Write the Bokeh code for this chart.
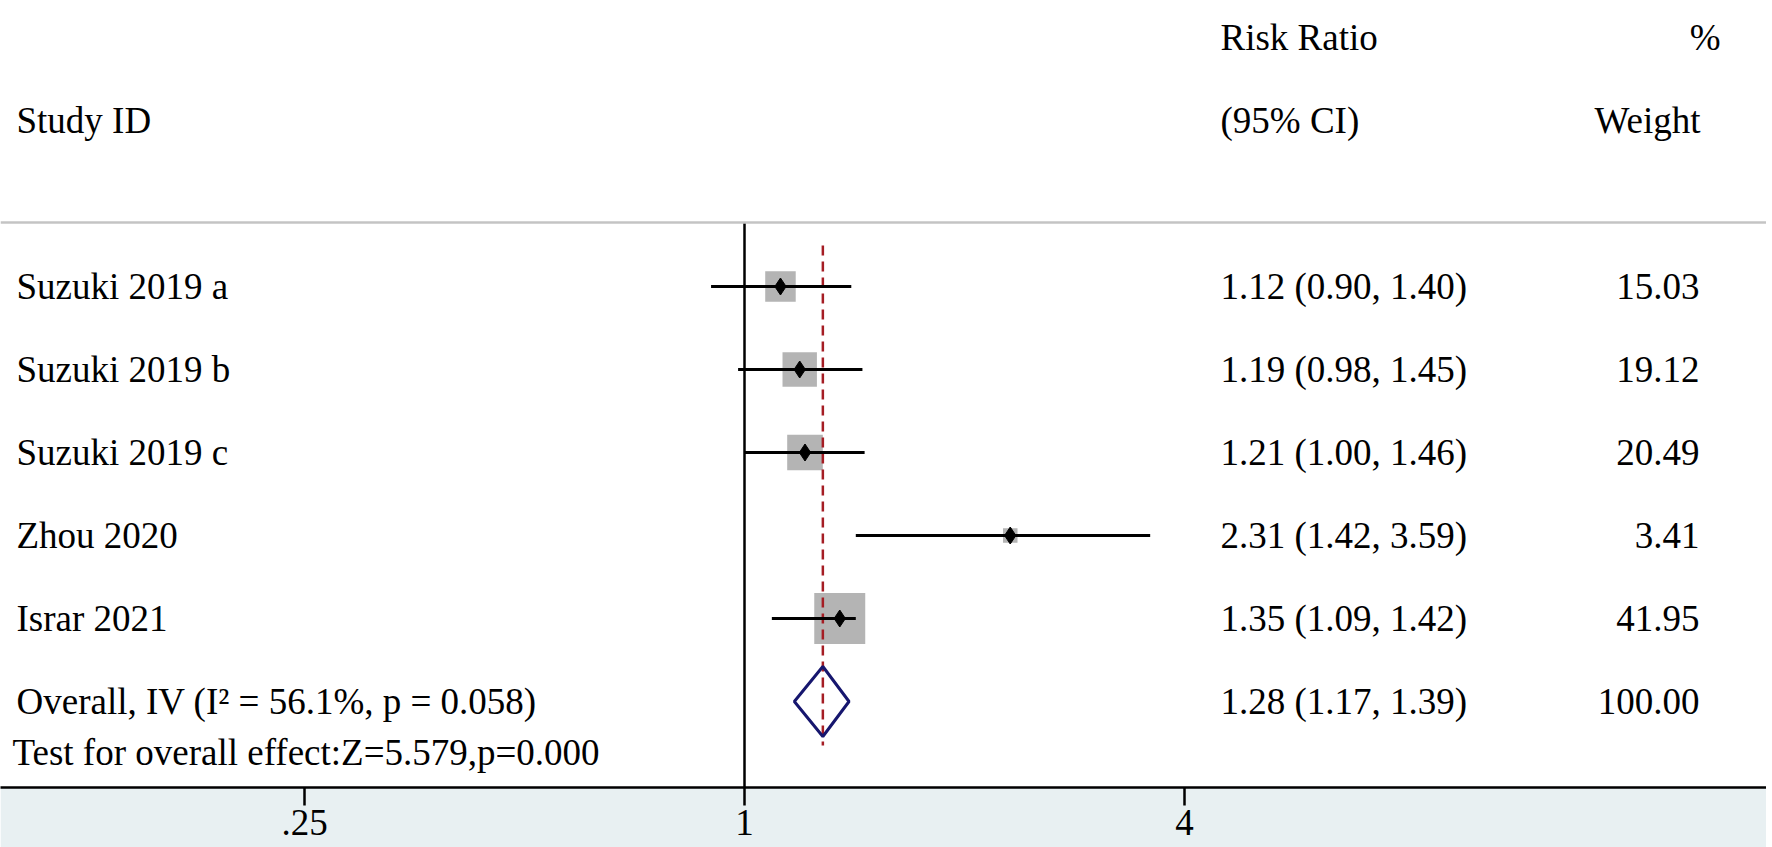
import math
import json
from bokeh.plotting import figure
from bokeh.models import Range1d, FixedTicker, CustomJSTickFormatter, ColumnDataSource, Span
from bokeh.core.properties import value
from bokeh.embed import file_html
from bokeh.resources import INLINE

# ---------------- data ----------------
studies = ["Suzuki 2019 a", "Suzuki 2019 b", "Suzuki 2019 c", "Zhou 2020", "Israr 2021"]
rr = [1.12, 1.19, 1.21, 2.31, 1.35]
ci_low = [0.90, 0.98, 1.00, 1.42, 1.09]
ci_high = [1.40, 1.45, 1.46, 3.59, 1.42]
weights = [15.03, 19.12, 20.49, 3.41, 41.95]

overall_label = "Overall, IV (I\u00b2 = 56.1%, p = 0.058)"
overall_rr = 1.28
overall_low = 1.17
overall_high = 1.39
overall_weight = 100.00
test_label = "Test for overall effect:Z=5.579,p=0.000"

header_study = "Study ID"
header_rr = ["Risk Ratio", "(95% CI)"]
header_w = ["%", "Weight"]

tick_values = [0.25, 1, 4]
tick_labels = [".25", "1", "4"]

# ---------------- layout helpers (screen pixels -> data) ----------------
X_ONE = 744.0      # x of RR = 1
X_UNIT = 220.0     # px per doubling
Y_ROW0 = 286.0     # y of first row
Y_STEP = 83.0      # px per row
W, H = 1766, 847
FRAME_L, FRAME_R = 0.0, float(W)
FRAME_T, FRAME_B = 0.0, 787.0


def xv(px):
    return 2 ** ((px - X_ONE) / X_UNIT)


def yr(py):
    return (py - Y_ROW0) / Y_STEP


FONT = value("Liberation Serif")
FSIZE = "37px"

p = figure(
    width=W, height=H,
    x_axis_type="log",
    x_range=Range1d(xv(FRAME_L), xv(FRAME_R)),
    y_range=Range1d(yr(FRAME_B), yr(FRAME_T)),
    toolbar_location=None, output_backend="svg",
    min_border_left=0, min_border_right=0, min_border_top=0,
    min_border_bottom=int(H - FRAME_B),
    y_axis_location=None,
    background_fill_color="white", border_fill_color="#e8f0f2",
    outline_line_color=None,
)
p.xgrid.visible = False
p.ygrid.visible = False

rows = list(range(len(studies)))
overall_row = len(studies)

src = ColumnDataSource(dict(
    rr=rr, lo=ci_low, hi=ci_high, y=rows,
    size=[7.87 * math.sqrt(w) for w in weights],
    label=studies,
    ci=["%.2f (%.2f, %.2f)" % (a, b, c) for a, b, c in zip(rr, ci_low, ci_high)],
    w=["%.2f" % w for w in weights],
))

# header separator
p.add_layout(Span(location=yr(222), dimension="width", line_color="#c4c4c4", line_width=2.5))

# null line at 1
p.segment(x0=[1], x1=[1], y0=[yr(222)], y1=[yr(FRAME_B)], line_color="black", line_width=2.5)

# weight boxes
p.scatter(x="rr", y="y", size="size", marker="square", source=src,
          fill_color="#b4b4b4", line_color=None)

# overall effect dashed line
p.segment(x0=[overall_rr], x1=[overall_rr], y0=[yr(245)], y1=[yr(745)],
          line_color="#a51d24", line_width=2.5, line_dash="10 6")

# CI lines
p.segment(x0="lo", x1="hi", y0="y", y1="y", source=src, line_color="black", line_width=3)

# point estimates
p.scatter(x="rr", y="y", size=17, marker="diamond", source=src,
          fill_color="black", line_color="black")

# overall diamond
h = 35.0 / Y_STEP
p.patch(x=[overall_low, overall_rr, overall_high, overall_rr],
        y=[overall_row, overall_row - h, overall_row, overall_row + h],
        fill_alpha=0, line_color="#16166e", line_width=3)

# texts: study rows
p.text(x=xv(16), y="y", text="label", source=src, text_font=FONT, text_font_size=FSIZE,
       text_align="left", text_baseline="middle", text_color="black")
p.text(x=xv(1220), y="y", text="ci", source=src, text_font=FONT, text_font_size=FSIZE,
       text_align="left", text_baseline="middle", text_color="black")
p.text(x=xv(1699), y="y", text="w", source=src, text_font=FONT, text_font_size=FSIZE,
       text_align="right", text_baseline="middle", text_color="black")

# overall texts
p.text(x=[xv(16)], y=[overall_row], text=[overall_label], text_font=FONT, text_font_size=FSIZE,
       text_align="left", text_baseline="middle", text_color="black")
p.text(x=[xv(1220)], y=[overall_row],
       text=["%.2f (%.2f, %.2f)" % (overall_rr, overall_low, overall_high)],
       text_font=FONT, text_font_size=FSIZE, text_align="left", text_baseline="middle",
       text_color="black")
p.text(x=[xv(1699)], y=[overall_row], text=["%.2f" % overall_weight], text_font=FONT,
       text_font_size=FSIZE, text_align="right", text_baseline="middle", text_color="black")
p.text(x=[xv(12)], y=[yr(752)], text=[test_label], text_font=FONT, text_font_size=FSIZE,
       text_align="left", text_baseline="middle", text_color="black")

# headers
p.text(x=[xv(16)], y=[yr(120)], text=[header_study], text_font=FONT, text_font_size=FSIZE,
       text_align="left", text_baseline="middle", text_color="black")
p.text(x=[xv(1220), xv(1220)], y=[yr(37), yr(120)], text=header_rr, text_font=FONT,
       text_font_size=FSIZE, text_align="left", text_baseline="middle", text_color="black")
p.text(x=[xv(1720), xv(1700)], y=[yr(37), yr(120)], text=header_w, text_font=FONT,
       text_font_size=FSIZE, text_align="right", text_baseline="middle", text_color="black")

# axis
p.xaxis.ticker = FixedTicker(ticks=tick_values, minor_ticks=[])
label_map = {str(t): l for t, l in zip(tick_values, tick_labels)}
p.xaxis.formatter = CustomJSTickFormatter(
    code="const m = %s; const k = String(tick); return (k in m) ? m[k] : k;" % json.dumps(label_map))
p.xaxis.axis_line_color = "black"
p.xaxis.axis_line_width = 2.5
p.xaxis.major_tick_line_color = "black"
p.xaxis.major_tick_line_width = 2.5
p.xaxis.major_tick_out = 18
p.xaxis.major_tick_in = 0
p.xaxis.minor_tick_out = 0
p.xaxis.minor_tick_in = 0
p.xaxis.major_label_standoff = 4
p.xaxis.major_label_text_font = "Liberation Serif"
p.xaxis.major_label_text_font_size = FSIZE
p.xaxis.major_label_text_color = "black"

open("out.html", "w").write(file_html(p, INLINE))
